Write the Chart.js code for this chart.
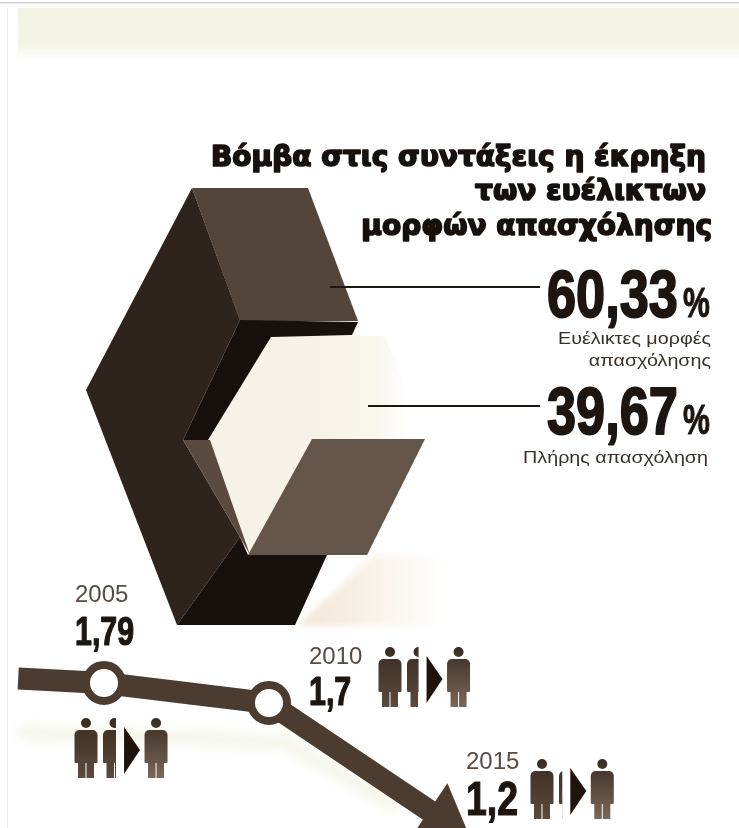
<!DOCTYPE html>
<html lang="el">
<head>
<meta charset="utf-8">
<title>Βόμβα στις συντάξεις</title>
<script src="https://cdn.jsdelivr.net/npm/chart.js@4/dist/chart.umd.min.js"></script>
<style>
  html, body { margin: 0; padding: 0; background: #fff; }
  #chartBox { position: relative; width: 739px; height: 828px; overflow: hidden; }
  canvas { display: block; }
</style>
</head>
<body>
<div id="chartBox"><canvas id="pensionChart" width="739" height="828"></canvas></div>
<script>
const titleLines = ["Βόμβα στις συντάξεις η έκρηξη", "των ευέλικτων", "μορφών απασχόλησης"];

const shareValues = [60.33, 39.67];
const shareLabels = [["Ευέλικτες μορφές", "απασχόλησης"], ["Πλήρης απασχόληση"]];

// workers per pensioner; the first entry is only the lead-in of the line
const trendYears = [2002.4, 2005, 2010, 2015];
const trendValues = [1.81, 1.79, 1.7, 1.2];

// outlines of the block's faces
const leftFace = [[192, 188], [86, 390], [177, 625], [240, 537], [183, 440], [240, 320]];
const bottomFace = [[177, 625], [240, 537], [248, 555], [327, 555], [295, 625]];
const innerFace = [[240, 320], [358, 322], [352, 335], [271, 337], [208, 440], [183, 440]];
const topFace = [[192, 188], [308, 188], [358, 321], [240, 321]];
const sideFace = [[183, 440], [210, 440], [250, 555], [240, 537]];
const creamFace = [[271, 336], [385, 336], [425, 440], [312, 440], [249, 555], [209, 441]];
const lowerFace = [[312, 439], [425, 439], [367, 555], [248, 555]];
const shadowShape = [[297, 626], [372, 556], [450, 556], [450, 626]];
const leaderTop = [[330, 287], [540, 287]];
const leaderBottom = [[368, 406], [540, 406]];

const YEAR_PX = 33;
const VALUE_PX = 222;
const ZERO_YEAR = 2005 - 104 / YEAR_PX;
const TOP_VALUE = 1.79 + 683 / VALUE_PX;

const BODY_W = 23;
const BODY_H = 60;

function formatComma(v) {
  return String(v).replace(".", ",");
}

function closed(points) {
  return points.concat([points[0]]).map(([x, y]) => ({ x, y }));
}

function face(points, color, order) {
  return {
    data: closed(points),
    xAxisID: "px",
    yAxisID: "py",
    borderColor: "transparent",
    borderWidth: 0,
    backgroundColor: color,
    fill: "shape",
    pointRadius: 0,
    order
  };
}

function leader(points) {
  return {
    data: points.map(([x, y]) => ({ x, y })),
    xAxisID: "px",
    yAxisID: "py",
    borderColor: "#1d1510",
    borderWidth: 2,
    pointRadius: 0,
    fill: false,
    order: 0
  };
}

function creamFill(c) {
  const chart = c.chart;
  if (!chart.chartArea) return "#f4efe2";
  const g = chart.ctx.createLinearGradient(320, 0, 412, 0);
  g.addColorStop(0, "#f6f2e7");
  g.addColorStop(0.6, "#f9f6ee");
  g.addColorStop(1, "#ffffff");
  return g;
}

function drawText(ctx, text, x, y, o) {
  ctx.save();
  ctx.font = `${o.weight || "normal"} ${o.size}px ${o.family || "'Liberation Sans'"}`;
  ctx.fillStyle = o.color || "#1d1510";
  ctx.textAlign = o.align || "left";
  ctx.textBaseline = "alphabetic";
  ctx.translate(x, y);
  ctx.scale(o.sx || 1, 1);
  if (o.stroke) {
    ctx.lineWidth = o.stroke;
    ctx.strokeStyle = ctx.fillStyle;
    ctx.lineJoin = "round";
    ctx.strokeText(text, 0, 0);
  }
  ctx.fillText(text, 0, 0);
  ctx.restore();
}

function drawPerson(ctx, cx, top, color, clipW) {
  ctx.save();
  if (clipW) {
    ctx.beginPath();
    ctx.rect(cx - BODY_W / 2, top - 1, clipW, BODY_H + 2);
    ctx.clip();
  }
  const g = ctx.createLinearGradient(0, top, 0, top + BODY_H);
  g.addColorStop(0, "#3b2c22");
  g.addColorStop(1, color);
  ctx.fillStyle = g;
  ctx.beginPath();
  ctx.arc(cx, top + 5, 5, 0, Math.PI * 2);
  ctx.fill();
  ctx.beginPath();
  ctx.roundRect(cx - BODY_W / 2, top + 12, BODY_W, 33, [5, 5, 1, 1]);
  ctx.fill();
  ctx.fillRect(cx - 8, top + 40, 7.5, BODY_H - 40);
  ctx.fillRect(cx + 0.5, top + 40, 7.5, BODY_H - 40);
  ctx.restore();
}

function drawRatioIcons(ctx, x, top, ratio) {
  const partW = (ratio - Math.floor(ratio)) * 16.5;
  const arrowX = x + 25 + partW;
  drawPerson(ctx, x, top, "#5c4a3c");
  drawPerson(ctx, x + 17 + BODY_W / 2, top, "#5c4a3c", partW);
  ctx.fillStyle = "#1f130c";
  ctx.beginPath();
  ctx.moveTo(arrowX, top + 9);
  ctx.lineTo(arrowX + 16, top + 32);
  ctx.lineTo(arrowX, top + 56);
  ctx.closePath();
  ctx.fill();
  drawPerson(ctx, arrowX + 32, top, "#7a6757");
}

const backdrop = {
  id: "backdrop",
  beforeDraw(chart) {
    const { ctx, scales } = chart;
    ctx.save();
    ctx.fillStyle = "#fff";
    ctx.fillRect(0, 0, 739, 828);

    const strip = ctx.createLinearGradient(0, 8, 0, 60);
    strip.addColorStop(0, "#f2f3e5");
    strip.addColorStop(0.7, "#f3f4e6");
    strip.addColorStop(1, "#ffffff");
    ctx.fillStyle = strip;
    ctx.fillRect(18, 8, 721, 52);

    ctx.fillStyle = "#d2d2d2";
    ctx.fillRect(0, 2, 739, 1.5);
    ctx.fillStyle = "#ececec";
    ctx.fillRect(7, 8, 1, 820);

    const fade = ctx.createLinearGradient(scales.px.getPixelForValue(320), 0, scales.px.getPixelForValue(445), 0);
    fade.addColorStop(0, "#f4e9da");
    fade.addColorStop(1, "#ffffff");
    ctx.filter = "blur(3px)";
    ctx.fillStyle = fade;
    ctx.beginPath();
    shadowShape.forEach(([x, y], i) => {
      const px = scales.px.getPixelForValue(x);
      const py = scales.py.getPixelForValue(y);
      if (i === 0) ctx.moveTo(px, py);
      else ctx.lineTo(px, py);
    });
    ctx.closePath();
    ctx.fill();

    ctx.filter = "blur(6px)";
    ctx.strokeStyle = "#f3f4e6";
    ctx.lineWidth = 12;
    ctx.beginPath();
    ctx.moveTo(scales.px.getPixelForValue(18), scales.py.getPixelForValue(732));
    ctx.lineTo(scales.px.getPixelForValue(283), scales.py.getPixelForValue(742));
    ctx.lineTo(scales.px.getPixelForValue(395), scales.py.getPixelForValue(805));
    ctx.stroke();
    ctx.restore();
  }
};

const annotations = {
  id: "annotations",
  afterDatasetsDraw(chart) {
    const { ctx } = chart;
    const trendMeta = chart.getDatasetMeta(chart.data.datasets.length - 1);
    const pts = trendMeta.data;

    // arrow head on the last trend point, turned along the last segment
    const a = pts[pts.length - 2];
    const b = pts[pts.length - 1];
    const len = Math.hypot(b.x - a.x, b.y - a.y);
    const ux = (b.x - a.x) / len;
    const uy = (b.y - a.y) / len;
    const baseX = b.x - 6 * ux;
    const baseY = b.y - 6 * uy;
    ctx.save();
    ctx.fillStyle = "#4c3b2f";
    ctx.beginPath();
    ctx.moveTo(baseX - 33 * uy, baseY + 33 * ux);
    ctx.lineTo(baseX + 33 * uy, baseY - 33 * ux);
    ctx.lineTo(baseX + 50 * ux, baseY + 50 * uy);
    ctx.closePath();
    ctx.fill();
    ctx.restore();

    // title
    const titleOpts = { weight: "bold", size: 28, family: "'DejaVu Sans'", color: "#17100c", align: "right", stroke: 1.7 };
    drawText(ctx, titleLines[0], 706, 166, titleOpts);
    drawText(ctx, titleLines[1], 706, 200, titleOpts);
    drawText(ctx, titleLines[2], 712, 235, titleOpts);

    // share block
    const shareBase = [317, 434];
    shareValues.forEach((v, i) => {
      const y = shareBase[i];
      drawText(ctx, formatComma(v), 547, y, { weight: "bold", size: 67, sx: 0.78, stroke: 2 });
      drawText(ctx, "%", 683, y, { weight: "bold", size: 42, sx: 0.72, stroke: 1 });
    });
    const labelOpts = { size: 17, sx: 1.16, align: "right", color: "#3a3029" };
    drawText(ctx, shareLabels[0][0], 711, 344, labelOpts);
    drawText(ctx, shareLabels[0][1], 711, 366, labelOpts);
    drawText(ctx, shareLabels[1][0], 708, 463, labelOpts);

    // year and ratio labels, placed from the trend points
    const labelPlace = [
      { dx: -29, yearDy: -81, valueDy: -38, size: 40, sx: 0.76, iconDx: -18, iconDy: 35 },
      { dx: 40, yearDy: -39, valueDy: 2, size: 40, sx: 0.76, iconDx: 121, iconDy: -56 },
      { dx: 32, yearDy: -45, valueDy: 1, size: 48, sx: 0.78, iconDx: 108, iconDy: -55 }
    ];
    labelPlace.forEach((p, i) => {
      const pt = pts[i + 1];
      drawText(ctx, String(trendYears[i + 1]), pt.x + p.dx, pt.y + p.yearDy, { size: 24, color: "#5a4a40" });
      drawText(ctx, formatComma(trendValues[i + 1]), pt.x + p.dx, pt.y + p.valueDy, { weight: "bold", size: p.size, sx: p.sx, stroke: 1.2 });
      drawRatioIcons(ctx, pt.x + p.iconDx, pt.y + p.iconDy, trendValues[i + 1]);
    });
  }
};

const ctx = document.getElementById("pensionChart").getContext("2d");
new Chart(ctx, {
  type: "line",
  data: {
    datasets: [
      face(leftFace, "#2f241d", 8),
      face(topFace, "#54453b", 7),
      face(bottomFace, "#17100c", 7),
      face(creamFace, creamFill, 6),
      face(innerFace, "#17100c", 5),
      face(sideFace, "#5a4a3f", 5),
      face(lowerFace, "#66564a", 4),
      leader(leaderTop),
      leader(leaderBottom),
      {
        data: trendYears.map((x, i) => ({ x, y: trendValues[i] })),
        xAxisID: "year",
        yAxisID: "value",
        borderColor: "#4c3b2f",
        borderWidth: 22,
        borderCapStyle: "butt",
        borderJoinStyle: "miter",
        tension: 0,
        fill: false,
        pointRadius: [0, 18, 18, 0],
        pointBorderWidth: 8,
        pointBorderColor: "#4c3b2f",
        pointBackgroundColor: "#ffffff",
        order: 1
      }
    ]
  },
  options: {
    responsive: false,
    animation: false,
    layout: { padding: 0 },
    plugins: {
      legend: { display: false },
      tooltip: { enabled: false }
    },
    scales: {
      px: { axis: "x", type: "linear", display: false, min: 0, max: 739 },
      py: { axis: "y", type: "linear", display: false, min: 0, max: 828, reverse: true },
      year: { axis: "x", type: "linear", display: false, min: ZERO_YEAR, max: ZERO_YEAR + 739 / YEAR_PX },
      value: { axis: "y", type: "linear", display: false, min: TOP_VALUE - 828 / VALUE_PX, max: TOP_VALUE }
    }
  },
  plugins: [backdrop, annotations]
});
</script>
</body>
</html>
